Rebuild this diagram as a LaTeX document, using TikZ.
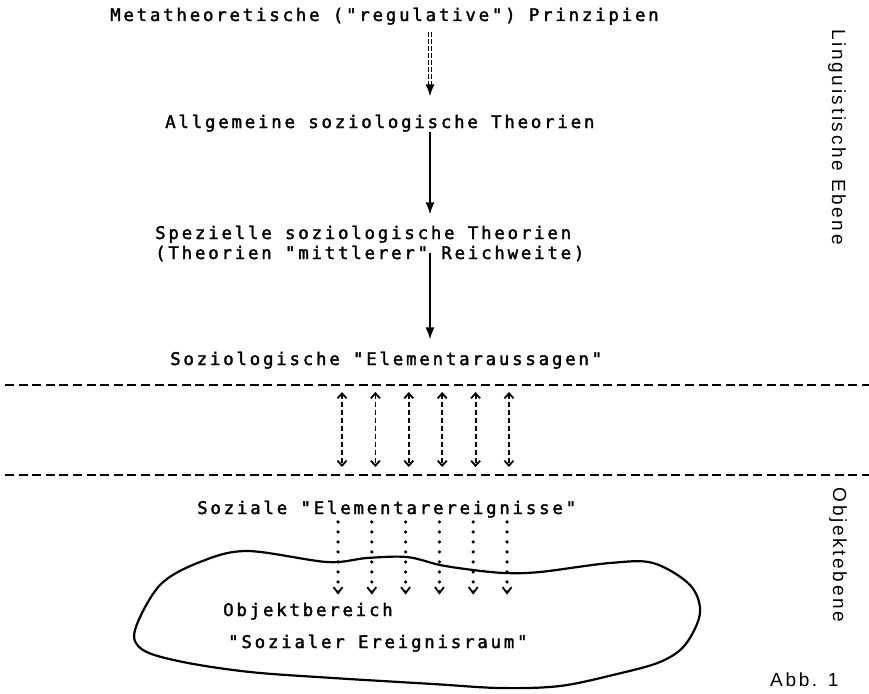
\documentclass[tikz,border=0pt]{standalone}
\usepackage{fontspec}
\setmonofont{DejaVu Sans Mono}[LetterSpace=16,FakeBold=2]
\newfontfamily\sidefont{Liberation Sans}[LetterSpace=14]
\usetikzlibrary{arrows.meta,positioning,calc}

\begin{document}
\begin{tikzpicture}[x=1pt,y=-1pt,
  txt/.style={inner sep=0pt,anchor=base west,font=\ttfamily\fontsize{17.4}{20}\selectfont},
  side/.style={inner sep=0pt,font=\sidefont\fontsize{19}{22}\selectfont},
  down/.style={line width=2pt,-{Latex[length=12pt,width=9pt]}},
  dbl/.style={line width=1.4pt,dash pattern=on 5pt off 2pt},
  sep/.style={line width=2.2pt,dash pattern=on 9pt off 4.6pt},
  updown/.style={line width=1.8pt,dash pattern=on 5pt off 3pt,
    {Straight Barb[length=5pt,width=9pt]}-{Straight Barb[length=5pt,width=9pt]}},
  dots/.style={line width=3.6pt,line cap=round,dash pattern=on 0pt off 10pt,
    -{Straight Barb[length=6pt,width=9pt,line width=1.8pt]}}]
\useasboundingbox (0,0) rectangle (869,693);

% linguistische Ebene
\node[txt] (meta) at (110,21) {Metatheoretische ("regulative") Prinzipien};
\node[txt] (allg) at (165,128) {Allgemeine soziologische Theorien};
\node[txt] (spez) at (155,239) {Spezielle soziologische Theorien};
\node[txt,below=20pt of spez.base west,anchor=base west] (reich) {(Theorien "mittlerer" Reichweite)};
\node[txt] (elem) at (170,365) {Soziologische "Elementaraussagen"};
\coordinate (ax) at (430,0);

\draw[dbl,transform canvas={xshift=-1.7pt},shorten <=7pt,shorten >=27pt] (meta.south -| ax) -- (allg.north -| ax);
\draw[dbl,transform canvas={xshift=1.7pt},shorten <=7pt,shorten >=27pt] (meta.south -| ax) -- (allg.north -| ax);
\draw[down,shorten <=60pt,shorten >=18pt] (meta.south -| ax) -- (allg.north -| ax);
\draw[down,shorten <=0pt,shorten >=11pt] (allg.south -| ax) -- (spez.north -| ax);
\draw[down,shorten <=-8pt,shorten >=12pt] (reich.south -| ax) -- (elem.north -| ax);

% Trennlinien
\coordinate (upper) at (5,385);
\coordinate (lower) at (5,475);
\coordinate (rim) at (869,0);
\draw[sep] (upper) -- (upper -| rim);
\draw[sep] (lower) -- (lower -| rim);
\foreach \x in {342,375.4,408.8,442.2,475.6,509}
  \draw[updown,shorten <=7pt,shorten >=8pt] (\x,0 |- upper) -- (\x,0 |- lower);

% Objektebene
\node[txt] (sozial) at (197,514) {Soziale "Elementarereignisse"};
\node[txt] (bereich) at (223,616) {Objektbereich};
\node[txt] (raum) at (228,648) {"Sozialer Ereignisraum"};
\draw[line width=2.2pt] plot[smooth cycle,tension=0.55] coordinates {
  (135,630) (160,585) (200,562) (247,551) (327,562) (367,558) (407,557)
  (440,565) (473,570) (505,573) (540,572) (610,563) (653,563) (690,585)
  (700,613) (685,645) (660,662) (617,674) (560,686) (500,688) (433,684)
  (333,678) (250,672) (183,662) (143,650)};
\foreach \x in {338,371.8,405.6,439.4,473.2,507}
  \draw[dots,shorten <=4pt,shorten >=8pt] (\x,0 |- sozial.south) -- (\x,0 |- bereich.north);

% Ebenen
\node[side,rotate=-90] (ling) at (837,137) {Linguistische Ebene};
\node[side,rotate=-90] (objeb) at (838,555) {Objektebene};
\node[side,anchor=base west] (abb) at (770,686) {Abb. 1};
\end{tikzpicture}
\end{document}
